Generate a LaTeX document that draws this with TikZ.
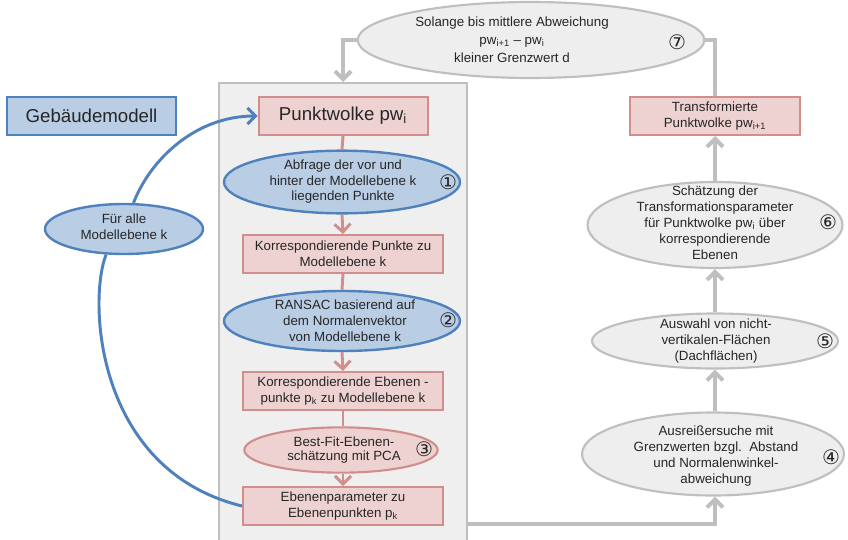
\documentclass[tikz,border=0pt]{standalone}
\usepackage{fontspec}
\setmainfont{Liberation Sans}
\newfontfamily\dejavu{DejaVu Sans}
\usetikzlibrary{shapes.geometric,arrows.meta}
\definecolor{pinkfill}{HTML}{EED2D1}
\definecolor{pinkdraw}{HTML}{D08E8C}
\definecolor{bluefill}{HTML}{B9CDE5}
\definecolor{bluedraw}{HTML}{4F81BD}
\definecolor{grayfill}{HTML}{EEEEEE}
\definecolor{graydraw}{HTML}{BFBFBF}
\definecolor{contfill}{HTML}{EFEFEF}
\definecolor{txtcol}{HTML}{262626}
\begin{document}
\begin{tikzpicture}[x=0.75pt,y=-0.75pt,
  pbox/.style={rectangle,fill=pinkfill,draw=pinkdraw,line width=1.5pt,inner sep=0pt},
  bbox/.style={rectangle,fill=bluefill,draw=bluedraw,line width=1.6pt,inner sep=0pt},
  bell/.style={ellipse,fill=bluefill,draw=bluedraw,line width=1.8pt,inner sep=0pt},
  pell/.style={ellipse,fill=pinkfill,draw=pinkdraw,line width=1.6pt,inner sep=0pt},
  gell/.style={ellipse,fill=grayfill,draw=graydraw,line width=1.6pt,inner sep=0pt},
  txt/.style={align=center,inner sep=0pt,text=txtcol,font=\fontsize{10}{12}\selectfont},
  bigtxt/.style={align=center,inner sep=0pt,text=txtcol,font=\fontsize{14}{16}\selectfont},
  num/.style={inner sep=0pt,text=txtcol,font=\dejavu\fontsize{15}{15}\selectfont},
  pline/.style={draw=pinkdraw,line width=2.2pt},
  parrow/.style={pline,-{Straight Barb[length=6pt,width=12pt]}},
  gline/.style={draw=graydraw,line width=3pt},
  garrow/.style={gline,-{Straight Barb[length=6pt,width=12pt]}},
  bline/.style={draw=bluedraw,line width=2.2pt},
  barrow/.style={bline,-{Straight Barb[length=6pt,width=12pt]}}
]
\clip (0,0) rectangle (848,539);
\fill[white] (0,0) rectangle (848,539);

% container
\node[draw=graydraw,fill=contfill,line width=1.5pt,minimum width=186pt,minimum height=358.5pt,inner sep=0pt,anchor=north] (cont) at (343,82) {};

% left column
\node[pbox,minimum width=126.75pt,minimum height=28.5pt] (pw) at (343,116) {};
\node[bigtxt] (tpw) at (343,116) {Punktwolke pw\textsubscript{i}};
\node[bell,minimum width=177pt,minimum height=47pt] (e1) at (342,182) {};
\node[txt,font=\fontsize{10}{11.6}\selectfont] (t1) at (343,182) {Abfrage der vor und\\hinter der Modellebene k\\liegenden Punkte};
\node[num] (n1) at (448,182) {①};
\node[pbox,minimum width=150pt,minimum height=28.5pt] (b2) at (343,254) {};
\node[txt] (tb2) at (343,254) {Korrespondierende Punkte zu\\Modellebene k};
\node[bell,minimum width=177pt,minimum height=45pt] (e2) at (342,321) {};
\node[txt] (t2) at (345,321) {RANSAC basierend auf\\dem Normalenvektor\\von Modellebene k};
\node[num] (n2) at (448,320) {②};
\node[pbox,minimum width=150pt,minimum height=28.5pt] (b3) at (343,391) {};
\node[txt] (tb3) at (343,391) {Korrespondierende Ebenen -\\punkte p\textsubscript{k} zu Modellebene k};
\node[pell,minimum width=145pt,minimum height=34pt] (e3) at (341,450) {};
\node[txt,font=\fontsize{10}{11}\selectfont] (t3) at (344,450) {Best-Fit-Ebenen-\\schätzung mit PCA};
\node[num] (n3) at (424,449) {③};
\node[pbox,minimum width=150pt,minimum height=28.5pt] (b4) at (343,506) {};
\node[txt] (tb4) at (343,506) {Ebenenparameter zu\\Ebenenpunkten p\textsubscript{k}};

% far left
\node[bbox,minimum width=126.75pt,minimum height=28.5pt] (gm) at (91.5,116) {};
\node[bigtxt] (tgm) at (91.5,116) {Gebäudemodell};
\node[bell,minimum width=118.5pt,minimum height=37.5pt] (fa) at (124,229) {};
\node[txt] (tfa) at (124,227) {Für alle\\Modellebene k};

% right column
\node[gell,minimum width=260pt,minimum height=57pt] (e7) at (531,40) {};
\node[txt,font=\fontsize{10}{13.5}\selectfont] (t7) at (512,40) {Solange bis mittlere Abweichung\\pw\textsubscript{i+1} – pw\textsubscript{i}\\kleiner Grenzwert d};
\node[num] (n7) at (677,42) {⑦};
\node[pbox,minimum width=127.5pt,minimum height=28.5pt] (T) at (715,116) {};
\node[txt] (tT) at (715,116) {Transformierte\\Punktwolke pw\textsubscript{i+1}};
\node[gell,minimum width=191.25pt,minimum height=64.5pt] (e6) at (715,225) {};
\node[txt] (t6) at (715,223) {Schätzung der\\Transformationsparameter\\für Punktwolke pw\textsubscript{i} über\\korrespondierende\\Ebenen};
\node[num] (n6) at (828,222) {⑥};
\node[gell,minimum width=184.5pt,minimum height=41.25pt] (e5) at (715,341) {};
\node[txt] (t5) at (716,341) {Auswahl von nicht-\\vertikalen-Flächen\\(Dachflächen)};
\node[num] (n5) at (825,341) {⑤};
\node[gell,minimum width=196.5pt,minimum height=62.25pt] (e4) at (713,454) {};
\node[txt] (t4) at (716,456) {Ausreißersuche mit\\Grenzwerten bzgl.\ \ Abstand\\und Normalenwinkel-\\abweichung};
\node[num] (n4) at (831,457) {④};

% pink connectors
\draw[pline] (pw.south) -- (e1.north);
\draw[parrow] (e1.south) -- (b2.north);
\draw[pline] (b2.south) -- (e2.north);
\draw[parrow] (e2.south) -- (b3.north);
\draw[pline] (b3.south) -- (b3.south |- e3.north);
\draw[parrow] (b4.north |- e3.south) -- (b4.north);

% blue connectors
\draw[barrow] (fa.70) .. controls (150,160) and (195,116) .. (pw.west);
\draw[bline] (fa.235) .. controls (88,300) and (95,470) .. (b4.west);

% gray connectors
\coordinate (cout) at (467,524);
\draw[garrow] (cout) -| (e4.south -| e5.south);
\draw[garrow] (e4.north -| e5.south) -- (e5.south);
\draw[garrow] (e5.north) -- (e6.south);
\draw[garrow] (e6.north) -- (T.south);
\draw[gline] (e7.east) -| (T.north);
\draw[garrow] (e7.west) -| (cont.north);
\end{tikzpicture}
\end{document}
